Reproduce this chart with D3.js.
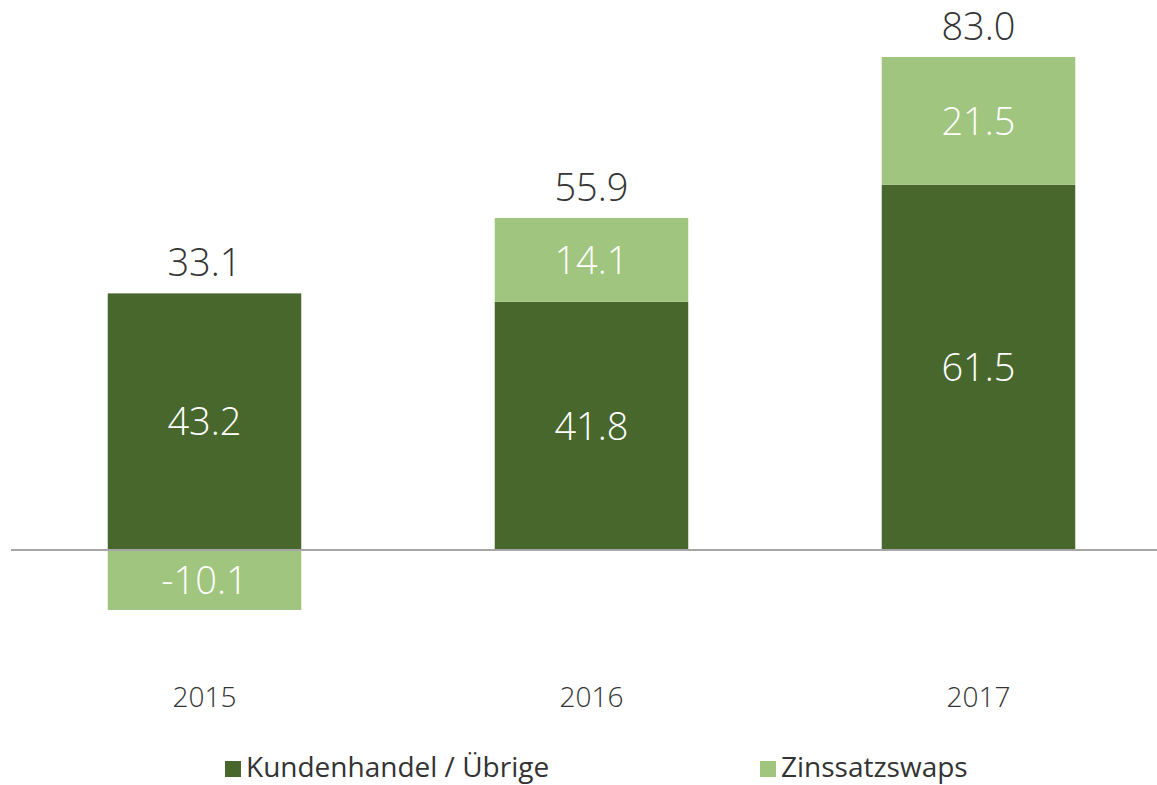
<!DOCTYPE html>
<html>
<head>
<meta charset="utf-8">
<script src="https://cdn.jsdelivr.net/npm/d3@7"></script>
<style>
  body { margin: 0; background: #fff; }
  text { font-family: "Open Sans", "Noto Sans", sans-serif; font-weight: 300; }
</style>
</head>
<body>
<div id="chart"></div>
<script>
// data
var years = ["2015", "2016", "2017"];
var kundenhandel = [43.2, 41.8, 61.5];
var zinsswaps = [-10.1, 14.1, 21.5];
var totals = [33.1, 55.9, 83.0];
var seriesNames = ["Kundenhandel / Übrige", "Zinssatzswaps"];
var seriesColors = ["#48672c", "#a0c57e"];

var svgWidth = 1157;
var svgHeight = 785;

var svg = d3.select("#chart")
  .append("svg")
  .attr("width", svgWidth)
  .attr("height", svgHeight);

var x = d3.scaleBand()
  .domain(years)
  .range([11, 1172])
  .paddingInner(0.5)
  .paddingOuter(0.25);

var y = d3.scaleLinear()
  .domain([-20, 90])
  .range([668.8, 15.4]);

// plain hyphen for negatives, like the original
var fmt = v => v.toFixed(1);

// stacked segments: dark from 0 upward, light stacked on top if positive, below 0 if negative
var rows = years.map(function(yr, i) {
  var k = kundenhandel[i], z = zinsswaps[i];
  return {
    year: yr,
    segs: [
      { v: k, y0: 0, y1: k, c: seriesColors[0] },
      z >= 0 ? { v: z, y0: k, y1: k + z, c: seriesColors[1] }
             : { v: z, y0: z, y1: 0, c: seriesColors[1] }
    ],
    total: totals[i],
    top: k + Math.max(z, 0)
  };
});

var groups = svg.selectAll("g.bar")
  .data(rows)
  .enter()
  .append("g")
  .attr("class", "bar");

groups.selectAll("rect")
  .data(d => d.segs.map(s => Object.assign({ year: d.year }, s)))
  .enter()
  .append("rect")
  .attr("x", d => x(d.year))
  .attr("width", x.bandwidth())
  .attr("y", d => y(Math.max(d.y0, d.y1)))
  .attr("height", d => Math.abs(y(d.y0) - y(d.y1)))
  .attr("fill", d => d.c);

groups.selectAll("text.inner")
  .data(d => d.segs.map(s => Object.assign({ year: d.year }, s)))
  .enter()
  .append("text")
  .attr("class", "inner")
  .attr("x", d => x(d.year) + x.bandwidth() / 2)
  .attr("y", d => (y(d.y0) + y(d.y1)) / 2)
  .attr("dy", "0.36em")
  .attr("text-anchor", "middle")
  .style("font-size", "38px")
  .style("fill", "#fff")
  .text(d => fmt(d.v));

// totals above bars
groups.append("text")
  .attr("x", d => x(d.year) + x.bandwidth() / 2)
  .attr("y", d => y(d.top) - 17)
  .attr("text-anchor", "middle")
  .style("font-size", "38px")
  .style("fill", "#333")
  .text(d => fmt(d.total));

// zero line
svg.append("line")
  .attr("x1", 11)
  .attr("x2", svgWidth)
  .attr("y1", y(0))
  .attr("y2", y(0))
  .attr("stroke", "#a6a6a6")
  .attr("stroke-width", 2);

// category labels
var xAxis = svg.append("g")
  .attr("transform", "translate(0, 707)")
  .call(d3.axisBottom(x).tickSize(0).tickPadding(0));
xAxis.select(".domain").remove();
xAxis.selectAll("text")
  .attr("dy", 0)
  .style("font-size", "28px")
  .style("fill", "#333")
  .style("font-family", "'Open Sans', 'Noto Sans', sans-serif")
  .style("font-weight", 300);

// legend
var legendX = [225, 760];
var legend = svg.selectAll("g.legend")
  .data(seriesNames)
  .enter()
  .append("g")
  .attr("class", "legend")
  .attr("transform", (d, i) => `translate(${legendX[i]}, 0)`);

legend.append("rect")
  .attr("x", 0)
  .attr("y", 761)
  .attr("width", 16)
  .attr("height", 16)
  .attr("fill", (d, i) => seriesColors[i]);

legend.append("text")
  .attr("x", 21)
  .attr("y", 777)
  .style("font-size", "28px")
  .style("font-weight", 400)
  .style("fill", "#333")
  .text(d => d);
</script>
</body>
</html>
